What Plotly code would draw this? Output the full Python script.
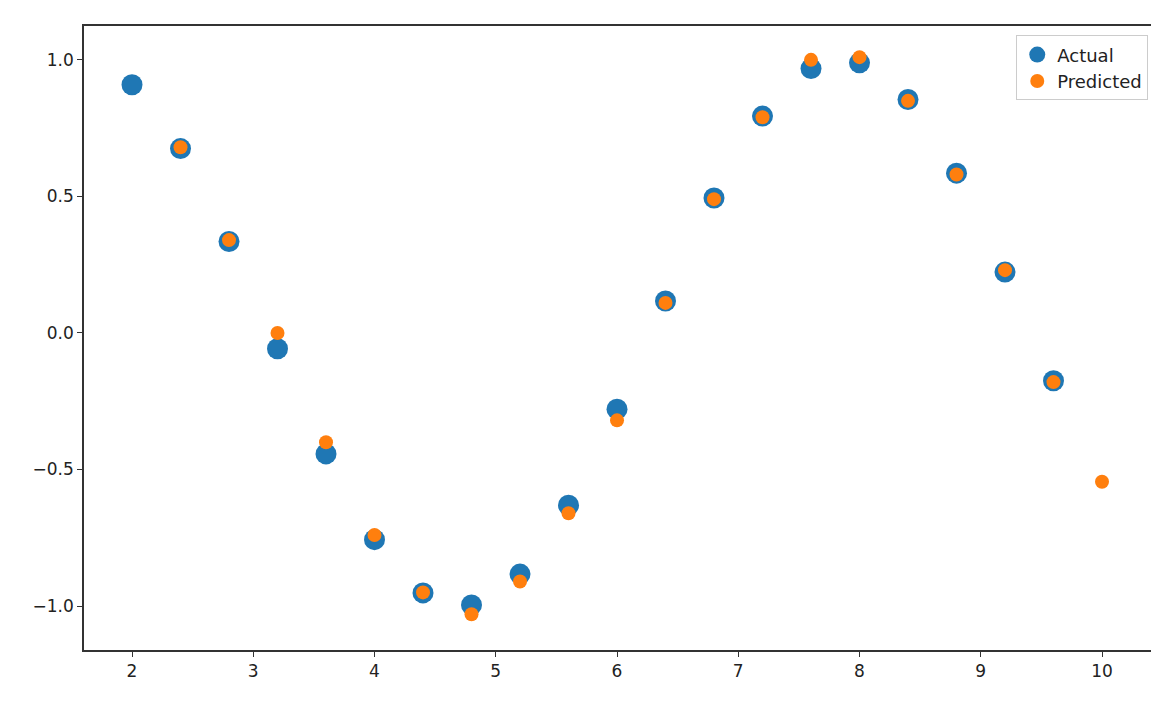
import plotly.graph_objects as go

x_actual = [2.0, 2.4, 2.8, 3.2, 3.6, 4.0, 4.4, 4.8, 5.2, 5.6, 6.0, 6.4, 6.8, 7.2, 7.6, 8.0, 8.4, 8.8, 9.2, 9.6]
y_actual = [0.909, 0.675, 0.335, -0.058, -0.443, -0.757, -0.952, -0.996, -0.883, -0.631,
            -0.279, 0.117, 0.494, 0.794, 0.968, 0.989, 0.855, 0.585, 0.223, -0.175]
x_pred = [2.4, 2.8, 3.2, 3.6, 4.0, 4.4, 4.8, 5.2, 5.6, 6.0, 6.4, 6.8, 7.2, 7.6, 8.0, 8.4, 8.8, 9.2, 9.6, 10.0]
y_pred = [0.68, 0.34, 0.0, -0.40, -0.74, -0.95, -1.03, -0.91, -0.66, -0.32,
          0.11, 0.49, 0.79, 1.00, 1.01, 0.85, 0.58, 0.23, -0.18, -0.545]

fig = go.Figure()
fig.add_trace(go.Scatter(x=x_actual, y=y_actual, mode="markers", name="Actual",
                         marker=dict(color="#1f77b4", size=21)))
fig.add_trace(go.Scatter(x=x_pred, y=y_pred, mode="markers", name="Predicted",
                         marker=dict(color="#ff7f0e", size=14)))

axis = dict(showgrid=False, zeroline=False, showline=True, mirror=True, linecolor="#333",
            linewidth=1.5, ticks="outside", ticklen=5, tickcolor="#333")
fig.update_xaxes(range=[1.604, 10.47], tickvals=[2, 3, 4, 5, 6, 7, 8, 9, 10], **axis)
fig.update_yaxes(range=[-1.161, 1.124], tickvals=[-1, -0.5, 0, 0.5, 1],
                 ticktext=["\u22121.0", "\u22120.5", "0.0", "0.5", "1.0"], **axis)
fig.update_layout(
    width=1159, height=702, plot_bgcolor="white", paper_bgcolor="white",
    margin=dict(l=76, r=8, t=18, b=60, autoexpand=False),
    font=dict(family="DejaVu Sans", size=17, color="#222"),
    legend=dict(x=0.99, y=0.985, xanchor="right", yanchor="top",
                bordercolor="#ccc", borderwidth=1, font=dict(size=18)),
)
fig.write_html("out.html")
